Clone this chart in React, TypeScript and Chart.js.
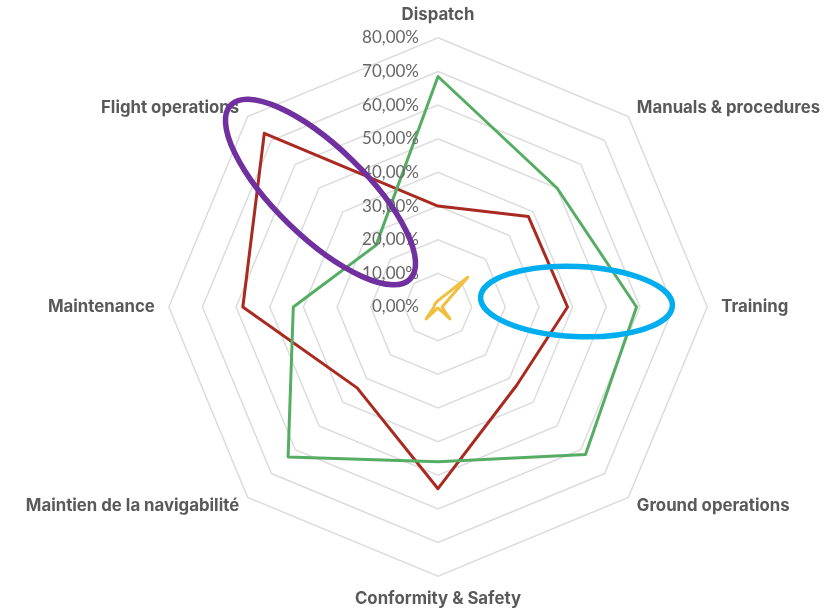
import React, { useEffect, useRef } from "react";
import { Chart, registerables } from "chart.js";

Chart.register(...registerables);

const categories = [
  "Dispatch",
  "Manuals & procedures",
  "Training",
  "Ground operations",
  "Conformity & Safety",
  "Maintien de la navigabilité",
  "Maintenance",
  "Flight operations",
];
const greenValues = [68.5, 50, 59, 62, 46, 63, 43, 26];
const redValues = [30, 38, 38.5, 33, 54, 34, 58, 73];
const yellowValues = [1.9, 12.5, 1.2, 5, 0.3, 5, 1.2, 1.3];

const TICK_FONT = "'Lato', 'Open Sans', sans-serif";
const LABEL_FONT = "'Inter', 'Open Sans', sans-serif";

const ellipses = [
  { cx: 576.5, cy: 301.5, rx: 96, ry: 35, tilt: 0.045, color: "#00aeef", width: 5.5 },
  { cx: 320.5, cy: 192, rx: 125, ry: 45, tilt: 0.77, color: "#7030a0", width: 5.5 },
];

const overlayPlugin = {
  id: "overlay",
  afterDatasetsDraw(chart: any) {
    const { ctx } = chart;
    const r = chart.scales.r;
    ctx.save();
    ctx.font = `17px ${TICK_FONT}`;
    ctx.fillStyle = "#666666";
    ctx.textAlign = "right";
    ctx.textBaseline = "middle";
    for (const t of r.ticks) {
      const y = r.yCenter - r.getDistanceFromCenterForValue(t.value);
      ctx.fillText(t.label, r.xCenter - 19, y);
    }
    for (const e of ellipses) {
      ctx.beginPath();
      ctx.ellipse(e.cx, e.cy, e.rx, e.ry, e.tilt, 0, Math.PI * 2);
      ctx.strokeStyle = e.color;
      ctx.lineWidth = e.width;
      ctx.stroke();
    }
    ctx.restore();
  },
};

export default function App() {
  const ref = useRef<HTMLCanvasElement | null>(null);
  useEffect(() => {
    document.body.style.margin = "0";
    const line = (label: string, data: number[], color: string) => ({
      label,
      data,
      borderColor: color,
      backgroundColor: "transparent",
      borderWidth: 3,
      borderJoinStyle: "round",
      pointRadius: 0,
      fill: false,
      tension: 0,
    });
    const chart = new Chart(ref.current as HTMLCanvasElement, {
      type: "radar",
      data: {
        labels: categories,
        datasets: [
          line("Série 1", greenValues, "#55ad63"),
          line("Série 2", redValues, "#a92a20"),
          line("Série 3", yellowValues, "#f0bf3f"),
        ],
      },
      options: {
        responsive: false,
        animation: false,
        layout: { padding: { left: 10, right: -10, top: 7, bottom: 1 } },
        plugins: { legend: { display: false }, tooltip: { enabled: false } },
        scales: {
          r: {
            min: 0,
            max: 80,
            ticks: {
              stepSize: 10,
              display: false,
              callback: (v: any) => `${Number(v).toFixed(2).replace(".", ",")}%`,
            },
            grid: { color: "#dcdcdc", lineWidth: 1.5 },
            angleLines: { display: false },
            pointLabels: {
              display: true,
              padding: (c: any) => (c.index % 2 === 1 ? 12 : 14),
              color: "#595959",
              font: (c: any) => ({
                family: LABEL_FONT,
                size: 16.8,
                weight: "bold",
                lineHeight: c.index % 2 === 1 ? 0.05 : 1,
              }),
            },
          },
        },
      },
      plugins: [overlayPlugin],
    } as any);
    return () => chart.destroy();
  }, []);
  return (
    <div style={{ position: "absolute", left: 0, top: 0, width: 839, height: 608 }}>
      <canvas ref={ref} width={839} height={608} style={{ display: "block" }} />
    </div>
  );
}
